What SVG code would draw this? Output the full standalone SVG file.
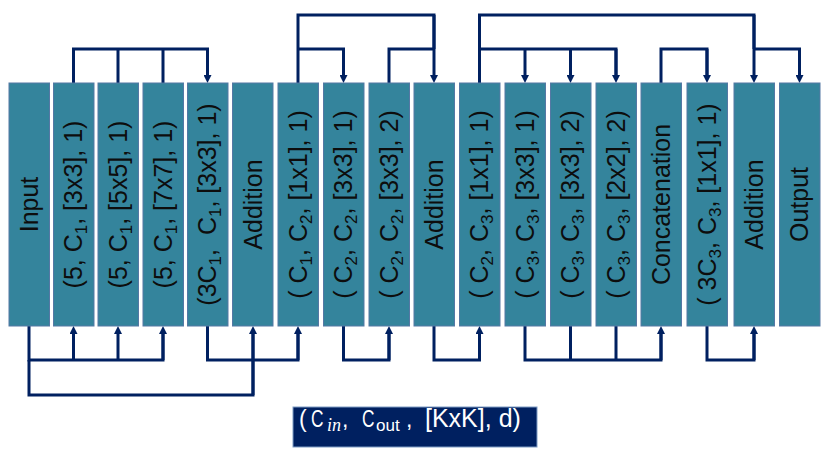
<svg xmlns="http://www.w3.org/2000/svg" width="830" height="457" viewBox="0 0 830 457">
<style>
.box{fill:#34849C;stroke:#5578A4;stroke-width:1}
.lbl{font-family:"Liberation Sans",Arial,sans-serif;font-size:25px;fill:#0d0d0d;text-anchor:middle;white-space:pre}
.s{font-size:17px}
.c{fill:none;stroke:#002060;stroke-width:3}
.a{marker-end:url(#ah)}
.lg{font-family:"Liberation Sans",Arial,sans-serif;font-size:23px;fill:#fff;white-space:pre}
</style>
<defs>
<marker id="ah" viewBox="0 0 8 8" markerWidth="8" markerHeight="8" refX="1" refY="4" orient="auto" markerUnits="userSpaceOnUse">
<path d="M0,0 L8,4 L0,8 z" fill="#002060"/>
</marker>
</defs>
<rect width="830" height="457" fill="#fff"/>
<g id="connectors">
<path class="c" d="M73.5,83 V49 H207.5 V76"/><path class="c a" d="M207.5,49 V76"/>
<path class="c" d="M118,83 V49 M163,83 V49"/>
<path class="c" d="M298,83 V15 H434 V49"/><path class="c a" d="M434,15 V76"/>
<path class="c" d="M298,49 H343.5 V76"/><path class="c a" d="M343.5,49 V76"/>
<path class="c" d="M389,83 V49 H434"/>
<path class="c" d="M479.5,83 V15 H754 V49"/><path class="c a" d="M754,15 V76"/>
<path class="c" d="M479.5,49 H616 V76"/><path class="c a" d="M616,49 V76"/>
<path class="c a" d="M525,49 V76"/><path class="c a" d="M570.5,49 V76"/>
<path class="c" d="M754,49 H799.5 V76"/><path class="c a" d="M799.5,49 V76"/>
<path class="c" d="M661,83 V49 H707 V76"/><path class="c a" d="M707,49 V76"/>
<path class="c" d="M29,326 V360 H163 V333"/><path class="c a" d="M163,360 V333"/>
<path class="c a" d="M73.5,360 V333"/><path class="c a" d="M118,360 V333"/>
<path class="c" d="M29,360 V395 H253 V333"/><path class="c a" d="M253,395 V333"/>
<path class="c" d="M207.5,326 V360 H298 V333"/><path class="c a" d="M298,360 V333"/>
<path class="c" d="M343.5,326 V360 H389 V333"/><path class="c a" d="M389,360 V333"/>
<path class="c" d="M434,326 V360 H479.5 V333"/><path class="c a" d="M479.5,360 V333"/>
<path class="c" d="M525,326 V360 H661 V333"/><path class="c a" d="M661,360 V333"/>
<path class="c" d="M570.5,326 V360 M616,326 V360"/>
<path class="c" d="M707,326 V360 H754 V333"/><path class="c a" d="M754,360 V333"/>
</g>
<g id="n1"><rect class="box" x="9" y="83" width="40.5" height="243"/><text class="lbl" transform="translate(37.5,204.5) rotate(-90)">Input</text></g>
<g id="n2"><rect class="box" x="53.5" y="83" width="40.5" height="243"/><text class="lbl" transform="translate(82,204.5) rotate(-90)">(5, C<tspan class="s" dy="5">1</tspan><tspan dy="-5">, [3x3], 1)</tspan></text></g>
<g id="n3"><rect class="box" x="98" y="83" width="40.5" height="243"/><text class="lbl" transform="translate(126.5,204.5) rotate(-90)">(5, C<tspan class="s" dy="5">1</tspan><tspan dy="-5">, [5x5], 1)</tspan></text></g>
<g id="n4"><rect class="box" x="143" y="83" width="40.5" height="243"/><text class="lbl" transform="translate(171.5,204.5) rotate(-90)">(5, C<tspan class="s" dy="5">1</tspan><tspan dy="-5">, [7x7], 1)</tspan></text></g>
<g id="n5"><rect class="box" x="187.5" y="83" width="40.5" height="243"/><text class="lbl" transform="translate(216,204.5) rotate(-90)">(3C<tspan class="s" dy="5">1</tspan><tspan dy="-5">,  C</tspan><tspan class="s" dy="5">1</tspan><tspan dy="-5">, [3x3], 1)</tspan></text></g>
<g id="n6"><rect class="box" x="232.5" y="83" width="40.5" height="243"/><text class="lbl" transform="translate(261.5,204.5) rotate(-90)">Addition</text></g>
<g id="n7"><rect class="box" x="278" y="83" width="40.5" height="243"/><text class="lbl" transform="translate(306.5,204.5) rotate(-90)">( C<tspan class="s" dy="5">1</tspan><tspan dy="-5">, C</tspan><tspan class="s" dy="5">2</tspan><tspan dy="-5">, [1x1], 1)</tspan></text></g>
<g id="n8"><rect class="box" x="323.5" y="83" width="40.5" height="243"/><text class="lbl" transform="translate(352,204.5) rotate(-90)">( C<tspan class="s" dy="5">2</tspan><tspan dy="-5">, C</tspan><tspan class="s" dy="5">2</tspan><tspan dy="-5">, [3x3], 1)</tspan></text></g>
<g id="n9"><rect class="box" x="369" y="83" width="40.5" height="243"/><text class="lbl" transform="translate(397.5,204.5) rotate(-90)">( C<tspan class="s" dy="5">2</tspan><tspan dy="-5">, C</tspan><tspan class="s" dy="5">2</tspan><tspan dy="-5">, [3x3], 2)</tspan></text></g>
<g id="n10"><rect class="box" x="414" y="83" width="40.5" height="243"/><text class="lbl" transform="translate(443,204.5) rotate(-90)">Addition</text></g>
<g id="n11"><rect class="box" x="459.5" y="83" width="40.5" height="243"/><text class="lbl" transform="translate(488,204.5) rotate(-90)">( C<tspan class="s" dy="5">2</tspan><tspan dy="-5">, C</tspan><tspan class="s" dy="5">3</tspan><tspan dy="-5">, [1x1], 1)</tspan></text></g>
<g id="n12"><rect class="box" x="505" y="83" width="40.5" height="243"/><text class="lbl" transform="translate(533.5,204.5) rotate(-90)">( C<tspan class="s" dy="5">3</tspan><tspan dy="-5">, C</tspan><tspan class="s" dy="5">3</tspan><tspan dy="-5">, [3x3], 1)</tspan></text></g>
<g id="n13"><rect class="box" x="550.5" y="83" width="40.5" height="243"/><text class="lbl" transform="translate(579,204.5) rotate(-90)">( C<tspan class="s" dy="5">3</tspan><tspan dy="-5">, C</tspan><tspan class="s" dy="5">3</tspan><tspan dy="-5">, [3x3], 2)</tspan></text></g>
<g id="n14"><rect class="box" x="596" y="83" width="40.5" height="243"/><text class="lbl" transform="translate(624.5,204.5) rotate(-90)">( C<tspan class="s" dy="5">3</tspan><tspan dy="-5">, C</tspan><tspan class="s" dy="5">3</tspan><tspan dy="-5">, [2x2], 2)</tspan></text></g>
<g id="n15"><rect class="box" x="641" y="83" width="40.5" height="243"/><text class="lbl" transform="translate(670,204.5) rotate(-90)">Concatenation</text></g>
<g id="n16"><rect class="box" x="687" y="83" width="40.5" height="243"/><text class="lbl" transform="translate(715.5,204.5) rotate(-90)">( 3C<tspan class="s" dy="5">3</tspan><tspan dy="-5">, C</tspan><tspan class="s" dy="5">3</tspan><tspan dy="-5">, [1x1], 1)</tspan></text></g>
<g id="n17"><rect class="box" x="734" y="83" width="40.5" height="243"/><text class="lbl" transform="translate(763,204.5) rotate(-90)">Addition</text></g>
<g id="n18"><rect class="box" x="779.5" y="83" width="40.5" height="243"/><text class="lbl" transform="translate(808,204.5) rotate(-90)">Output</text></g>
<g id="legend">
<rect x="293" y="407" width="244" height="40" fill="#002060" stroke="#7F9CC4" stroke-width="1"/>
<text class="lg" x="299" y="427">(</text>
<text class="lg" x="311" y="427" textLength="12.5" lengthAdjust="spacingAndGlyphs">C</text>
<text class="lg" x="327" y="431" style="font-family:'Liberation Serif',serif;font-style:italic;font-size:18px">in</text>
<text class="lg" x="342" y="427">,</text>
<text class="lg" x="362" y="427" textLength="12.5" lengthAdjust="spacingAndGlyphs">C</text>
<text class="lg" x="376" y="431" style="font-size:17px">out</text>
<text class="lg" x="406" y="427">,</text>
<text class="lg" x="425" y="427" style="font-size:25px">[KxK], d)</text>
</g>
</svg>
